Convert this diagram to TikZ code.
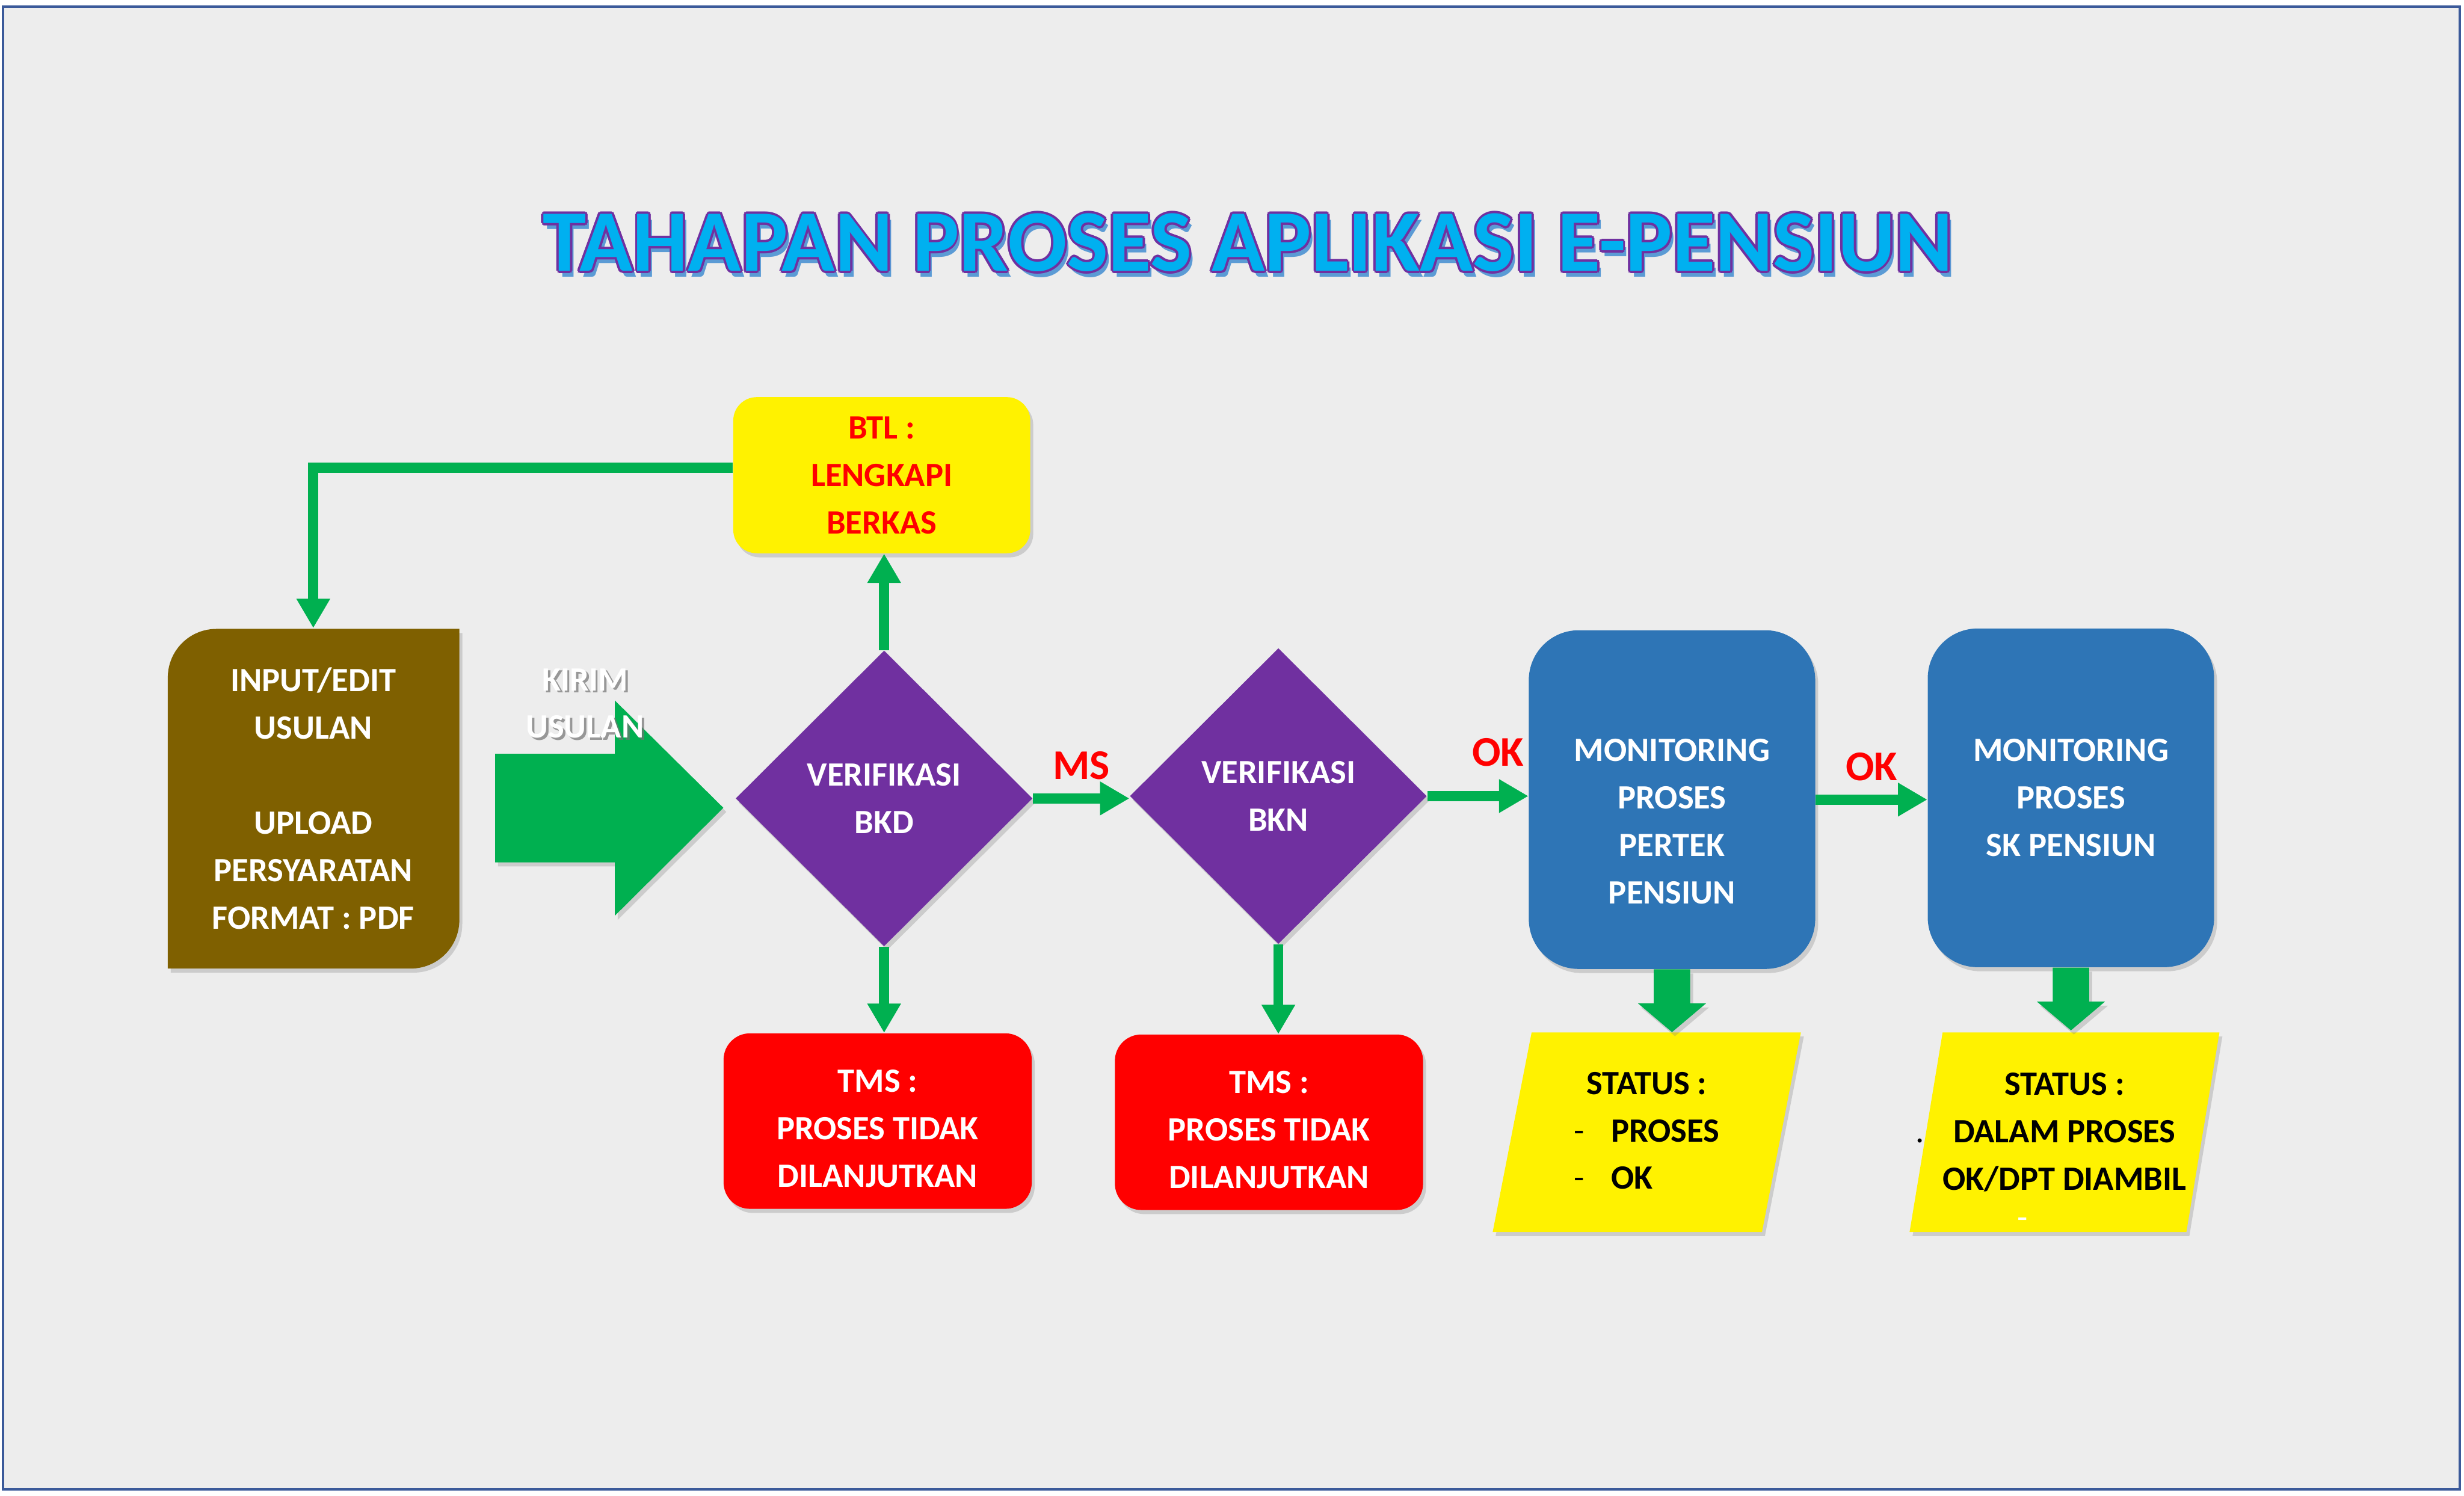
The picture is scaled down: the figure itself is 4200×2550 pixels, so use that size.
\documentclass[tikz,border=0pt]{standalone}
\usepackage{fontspec}
\setmainfont{Carlito}
\usetikzlibrary{arrows.meta,shapes.geometric,shadows}
\definecolor{bggray}{HTML}{EDEDED}
\definecolor{frameblue}{HTML}{3B5A9A}
\definecolor{olivebrown}{HTML}{7F6000}
\definecolor{flowgreen}{HTML}{00B050}
\definecolor{vpurple}{HTML}{7030A0}
\definecolor{monblue}{HTML}{2E75B6}
\definecolor{titlecyan}{HTML}{00B0F0}
\definecolor{titleshade}{HTML}{5B9BD5}
\newcommand\judul{TAHAPAN PROSES APLIKASI E-PENSIUN}

\tikzset{
  body/.style={font=\fontsize{16.5}{23}\selectfont\bfseries, align=center, text=white},
  softshadow/.style={drop shadow={shadow xshift=0.05cm, shadow yshift=-0.07cm, opacity=0.3}},
  btlbox/.style={body, text=red, fill=yellow, rounded corners=0.4cm,
    minimum width=5.06cm, minimum height=2.66cm, softshadow},
  tmsbox/.style={body, fill=red, rounded corners=0.45cm,
    minimum width=5.25cm, minimum height=2.99cm, softshadow},
  monbox/.style={body, fill=monblue, rounded corners=0.85cm,
    minimum width=4.88cm, minimum height=5.77cm, softshadow},
  verif/.style={body, diamond, fill=vpurple, inner sep=0pt,
    minimum width=5.06cm, minimum height=5.04cm, softshadow},
  statusbox/.style={body, text=black, fill=yellow, trapezium,
    trapezium left angle=76, trapezium right angle=104, trapezium stretches body,
    minimum width=5.25cm, minimum height=3.4cm, inner xsep=0pt, softshadow},
  link/.style={draw=flowgreen, line width=0.17cm, -{Triangle[length=0.5cm,width=0.54cm]}},
  blockarrow/.style={fill=flowgreen, softshadow},
  flag/.style={font=\fontsize{20.5}{24}\selectfont\bfseries, text=red},
  titletext/.style={font=\fontsize{42.5}{50}\selectfont\bfseries, anchor=base}
}

\begin{document}
\begin{tikzpicture}[x=0.01cm, y=-0.01cm]
  \useasboundingbox (0,0) rectangle (4200,2550);
  \fill[white] (0,0) rectangle (4200,2550);
  \draw[frameblue, line width=0.04cm, fill=bggray] (5,11) rectangle (4193,2539);

  % judul
  \node[titletext, text=titleshade] (judulshadow) at (2133,472) {\judul};
  \foreach \a in {0,45,...,315}
    \node[titletext, text=vpurple, shift={(\a:4)}] (judul\a) at (2127,462) {\judul};
  \node[titletext, text=titlecyan] (judul) at (2127,462) {\judul};

  % input usulan
  \fill[olivebrown, softshadow] (286,1651) -- (286,1155) to[out=90,in=180] (369,1072)
    -- (783,1072) -- (783,1568) to[out=-90,in=0] (700,1651) -- cycle;
  \node[body, minimum width=4.97cm, minimum height=5.79cm] (input) at (534,1361)
    {INPUT/EDIT\\USULAN\\[23pt]UPLOAD\\PERSYARATAN\\FORMAT : PDF};

  % kirim usulan
  \fill[blockarrow] (844,1285) -- (1048,1285) -- (1048,1194) -- (1233,1377)
    -- (1048,1561) -- (1048,1470) -- (844,1470) -- cycle;
  \node[body, text=black!55, opacity=0.7] (kirimshadow) at (1001,1203) {KIRIM\\USULAN};
  \node[body] (kirim) at (997,1199) {KIRIM\\USULAN};

  % kotak proses
  \node[btlbox] (btl) at (1503,810) {BTL :\\LENGKAPI\\BERKAS};
  \node[verif] (bkd) at (1507,1361) {VERIFIKASI\\BKD};
  \node[verif] (bkn) at (2179,1357) {VERIFIKASI\\BKN};
  \node[tmsbox] (tms1) at (1496,1911) {\rule{0pt}{18pt}TMS :\\PROSES TIDAK\\DILANJUTKAN};
  \node[tmsbox] (tms2) at (2163,1913) {\rule{0pt}{18pt}TMS :\\PROSES TIDAK\\DILANJUTKAN};
  \node[monbox] (mon1) at (2850,1363) {\rule{0pt}{32pt}MONITORING\\PROSES\\PERTEK\\PENSIUN};
  \node[monbox] (mon2) at (3530,1360) {MONITORING\\PROSES\\SK PENSIUN};
  \node[statusbox] (st1) at (2807,1930) {%
    \begin{tabular}{@{}l@{\hspace{0.45cm}}l@{}}
      \multicolumn{2}{c}{STATUS :}\\
      {\mdseries -} & PROSES\\
      {\mdseries -} & OK
    \end{tabular}};
  \node[statusbox] (st2) at (3519,1930)
    {STATUS :\\\llap{\mdseries .\hspace{0.5cm}}DALAM PROSES\\OK/DPT DIAMBIL};
  \node[body, text=white, font=\fontsize{16.5}{23}\selectfont] (st2dash) at (3447,2085) {-};

  % panah
  \draw[link] ([yshift=0.13cm]btl.west) -| (input.north);
  \draw[link] (bkd.north) -- (bkd.north |- btl.south);
  \draw[link] (bkd.south) -- (bkd.south |- tms1.north);
  \draw[link] (bkn.south) -- (bkn.south |- tms2.north);
  \draw[link] (bkd.east) -- node[flag, above=0.12cm] (ms) {MS} (bkd.east -| bkn.west);
  \draw[link] (bkn.east) -- node[flag, pos=0.7, above=0.3cm] (ok1) {OK} (bkn.east -| mon1.west);
  \draw[link] (mon1.east) -- node[flag, above=0.12cm] (ok2) {OK} (mon1.east -| mon2.west);
  \fill[blockarrow] (mon1.south) ++(-31,0) -- ++(0,58) -- ++(-27,0) -- ++(58,49)
    -- ++(58,-49) -- ++(-27,0) -- ++(0,-58) -- cycle;
  \fill[blockarrow] (mon2.south) ++(-31,0) -- ++(0,58) -- ++(-27,0) -- ++(58,49)
    -- ++(58,-49) -- ++(-27,0) -- ++(0,-58) -- cycle;
\end{tikzpicture}
\end{document}
